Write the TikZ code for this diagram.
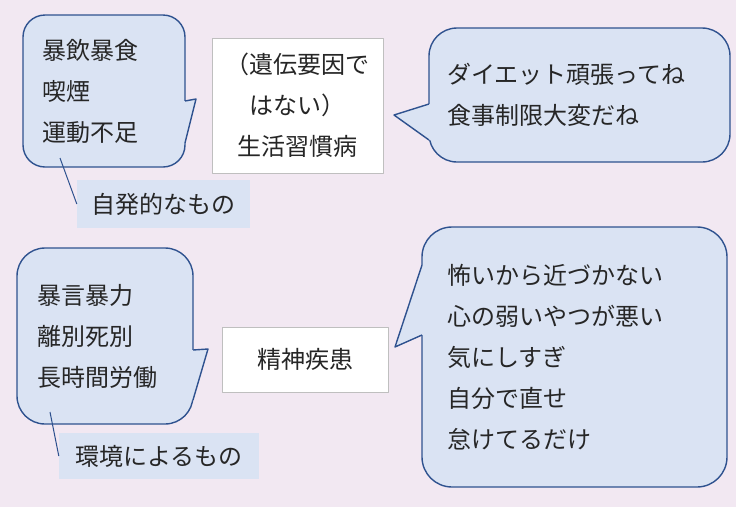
\documentclass[tikz,border=0pt]{standalone}
\usepackage{fontspec}
\usepackage{tikz}
\newfontfamily\jp{Noto Sans CJK JP}
\definecolor{bgpink}{RGB}{242,232,242}
\definecolor{bubblefill}{RGB}{218,227,243}
\definecolor{bubbleline}{RGB}{47,82,143}
\definecolor{boxline}{RGB}{191,191,191}
\definecolor{inkgray}{RGB}{38,38,38}

\begin{document}
\begin{tikzpicture}[x=1pt, y=-1pt, line join=round,
                every node/.style={font=\jp\fontsize{24}{41}\selectfont, text=inkgray},
                bubble/.style={draw=bubbleline, fill=bubblefill, line width=1.4pt, align=left},
                plain box/.style={draw=boxline, fill=white, line width=0.8pt, align=center},
                tag/.style={fill=bubblefill, inner sep=0pt},
                leader/.style={draw=bubbleline, line width=1pt},
                tip/.style={draw=bubbleline, line width=1.4pt}]

            % Background
            \fill[bgpink] (0,0) rectangle (736,507);

            % Bubbles
            \node[bubble, rounded corners=22pt, minimum height=152pt, text width=124pt, inner xsep=19pt] (hab) at (104,91) {暴飲暴食\\喫煙\\運動不足};
            \node[bubble, rounded corners=28pt, minimum height=134pt, text width=265pt, inner xsep=18pt] (diet) at (579.5,95) {ダイエット頑張ってね\\食事制限大変だね};
            \node[bubble, rounded corners=28pt, minimum height=176pt, text width=136pt, inner xsep=20pt] (abuse) at (105,336) {暴言暴力\\離別死別\\長時間労働};
            \node[bubble, rounded corners=30pt, minimum height=260pt, text width=255pt, inner xsep=25pt] (blame) at (574.5,357) {怖いから近づかない\\心の弱いやつが悪い\\気にしすぎ\\自分で直せ\\怠けてるだけ};

            % Pointers
            \fill[bubblefill] (185,101) -- (196,99) -- (185,143) -- (181,143) -- (181,101) -- cycle;
            \draw[tip] (185,101) -- (196,99) -- (185,143);
            \fill[bubblefill] (429,104) -- (394,115) -- (429,140) -- (433,140) -- (433,104) -- cycle;
            \draw[tip] (429,104) -- (394,115) -- (429,140);
            \fill[bubblefill] (193,350) -- (208,349) -- (193,400) -- (189,400) -- (189,350) -- cycle;
            \draw[tip] (193,350) -- (208,349) -- (193,400);
            \fill[bubblefill] (422,265) -- (395,347) -- (422,335) -- (426,335) -- (426,265) -- cycle;
            \draw[tip] (422,265) -- (395,347) -- (422,335);

            % Boxes
            \node[plain box, minimum width=171pt, minimum height=135pt] (life) at (297.5,105.5) {（遺伝要因で\\はない）\\生活習慣病};
            \node[plain box, minimum width=166pt, minimum height=65pt] (mental) at (305,359.5) {精神疾患};

            % Tags
            \node[tag, minimum width=173pt, minimum height=48pt] (self) at (163.5,204) {自発的なもの};
            \node[tag, minimum width=200pt, minimum height=46pt] (env) at (159,456) {環境によるもの};

            % Leaders
            \coordinate (hab tail) at (60,158);
            \coordinate (abuse tail) at (50,412);
            \draw[leader] (hab tail) -- (self.west);
            \draw[leader] (abuse tail) -- (env.west);

        \end{tikzpicture}
\end{document}
